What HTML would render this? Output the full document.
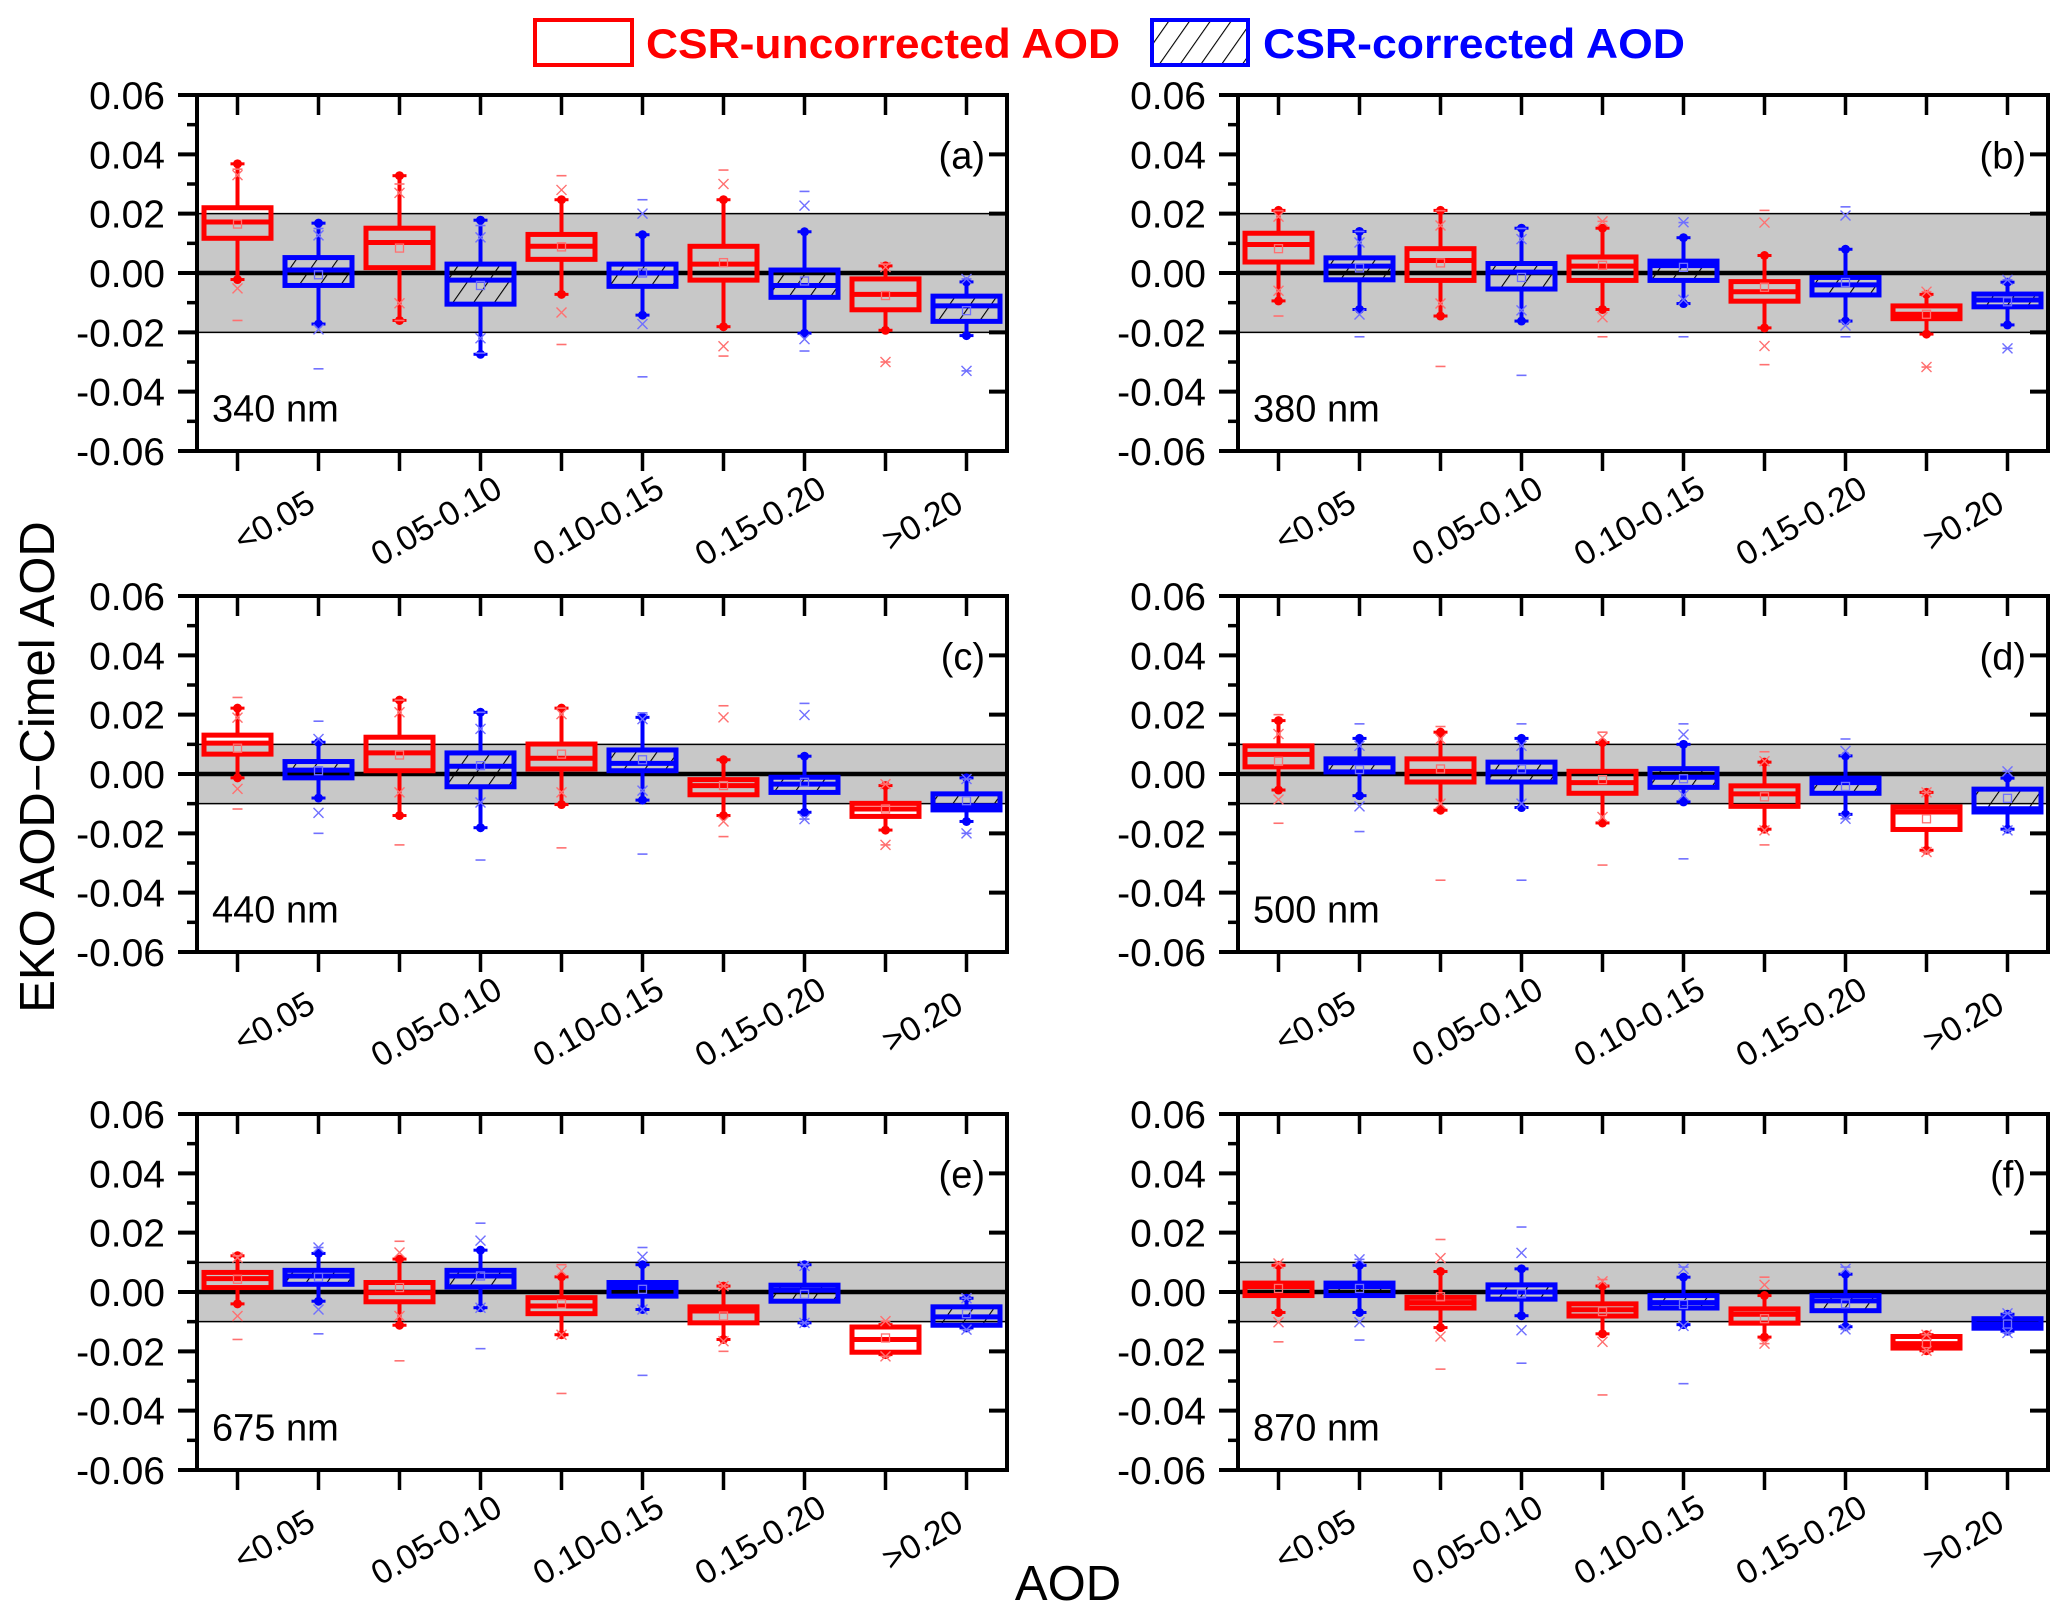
<!DOCTYPE html>
<html><head><meta charset="utf-8">
<style>
html,body{margin:0;padding:0;background:#fff;}
svg{display:block;font-family:"Liberation Sans",Arial,sans-serif;}
</style></head>
<body>
<svg id="chart" width="2067" height="1620" viewBox="0 0 2067 1620" xmlns="http://www.w3.org/2000/svg">
<defs>
<pattern id="hatch" patternUnits="userSpaceOnUse" width="17" height="17" patternTransform="rotate(35)">
<line x1="0" y1="0" x2="0" y2="17" stroke="#000" stroke-width="2.2"/>
</pattern>
</defs>
<g>
<rect x="535" y="20" width="97" height="45" fill="none" stroke="#ff0000" stroke-width="4"/>
<text x="646" y="58" font-size="42" font-weight="bold" fill="#ff0000" textLength="474" lengthAdjust="spacingAndGlyphs">CSR-uncorrected AOD</text>
<rect x="1152" y="20" width="96" height="45" fill="url(#hatch)" stroke="#0000ff" stroke-width="4"/>
<text x="1263" y="58" font-size="42" font-weight="bold" fill="#0000ff" textLength="422" lengthAdjust="spacingAndGlyphs">CSR-corrected AOD</text>
</g>
<text x="0" y="0" font-size="49" text-anchor="middle" transform="translate(54,767) rotate(-90)">EKO AOD−Cimel AOD</text>
<text x="1068" y="1600" font-size="49" text-anchor="middle">AOD</text>
<g id="panels"></g>
</svg>
<script>
// Category labels and tick labels
const categories = ["<0.05","0.05-0.10","0.10-0.15","0.15-0.20",">0.20"];
const yTicks = [0.06,0.04,0.02,0.00,-0.02,-0.04,-0.06];
const yTickLabels = ["0.06","0.04","0.02","0.00","-0.02","-0.04","-0.06"];
const panelLetters = ["(a)","(b)","(c)","(d)","(e)","(f)"];
const wavelengths = ["340 nm","380 nm","440 nm","500 nm","675 nm","870 nm"];
const bandHalf = [0.02,0.02,0.01,0.01,0.01,0.01];

// Panel (a) 340 nm — alternating uncorrected(red)/corrected(blue)
const aWhiskHi=[0.0368,0.0168,0.0328,0.0178,0.0247,0.0129,0.0247,0.0139,0.0024,-0.003];
const aQ3=[0.022,0.0052,0.0151,0.003,0.013,0.003,0.009,0.001,-0.002,-0.0078];
const aMed=[0.0172,0.001,0.0103,-0.0024,0.009,0,0.003,-0.0042,-0.0072,-0.0111];
const aQ1=[0.0117,-0.0042,0.0018,-0.0105,0.0046,-0.0045,-0.0024,-0.0082,-0.0124,-0.0163];
const aWhiskLo=[-0.0022,-0.0172,-0.016,-0.0274,-0.0072,-0.0142,-0.0181,-0.0203,-0.0193,-0.0211];
const aMean=[0.0165,-0.0006,0.0084,-0.0042,0.0088,0,0.0035,-0.0027,-0.0076,-0.0127];
const aP99=[0.033,0.0127,0.027,0.012,0.028,0.02,0.030,0.0227,0.002,-0.002];
const aP1=[-0.0052,-0.019,-0.0102,-0.022,-0.0133,-0.0172,-0.0247,-0.0223,-0.030,-0.033];
const aMax=[0.035,0.015,0.03,0.016,0.0328,0.0247,0.0347,0.0275,0.003,-0.002];
const aMin=[-0.016,-0.0323,-0.016,-0.027,-0.0241,-0.035,-0.028,-0.0263,-0.030,-0.033];
// Panel (b) 380 nm
const bWhiskHi=[0.0211,0.014,0.0211,0.0151,0.0151,0.0119,0.0059,0.008,-0.0072,-0.0031];
const bQ3=[0.0134,0.0051,0.0082,0.0032,0.0054,0.004,-0.0029,-0.0015,-0.0111,-0.0071];
const bMed=[0.0096,0.0023,0.0042,0.0003,0.0023,0.0025,-0.0063,-0.004,-0.0139,-0.0091];
const bQ1=[0.0037,-0.0023,-0.0025,-0.0054,-0.0025,-0.0025,-0.0095,-0.0074,-0.0154,-0.0114];
const bWhiskLo=[-0.0094,-0.0123,-0.0145,-0.0162,-0.0123,-0.0103,-0.0185,-0.0162,-0.0206,-0.0175];
const bMean=[0.0082,0.0017,0.0034,-0.0015,0.0026,0.0019,-0.0048,-0.0032,-0.0139,-0.0097];
const bP99=[0.019,0.0103,0.016,0.0114,0.0174,0.0171,0.017,0.0194,-0.0063,-0.0023];
const bP1=[-0.006,-0.014,-0.0103,-0.0126,-0.0149,-0.009,-0.0246,-0.0177,-0.0317,-0.0254];
const bMax=[0.021,0.014,0.021,0.015,0.0174,0.017,0.0211,0.0223,-0.0063,-0.0023];
const bMin=[-0.0145,-0.0215,-0.0315,-0.0345,-0.0215,-0.0215,-0.0309,-0.0215,-0.0317,-0.0254];
// Panel (c) 440 nm
const cWhiskHi=[0.0222,0.0107,0.0249,0.0208,0.0222,0.0191,0.0048,0.006,-0.0039,-0.0013];
const cQ3=[0.0131,0.0042,0.0124,0.0071,0.0101,0.0081,-0.0019,-0.0011,-0.0099,-0.0067];
const cMed=[0.0104,0.0013,0.0071,0.0026,0.0053,0.0036,-0.0039,-0.0034,-0.0118,-0.0107];
const cQ1=[0.0067,-0.0013,0.0011,-0.0043,0.0017,0.0011,-0.007,-0.0062,-0.0143,-0.0121];
const cWhiskLo=[-0.0013,-0.0081,-0.014,-0.0181,-0.0103,-0.0088,-0.014,-0.0129,-0.0189,-0.016];
const cMean=[0.0087,0.0011,0.0064,0.0028,0.0067,0.0048,-0.0039,-0.0028,-0.0118,-0.009];
const cP99=[0.019,0.0118,0.0208,0.0152,0.0202,0.0185,0.0191,0.0199,-0.0034,-0.0017];
const cP1=[-0.005,-0.0131,-0.0062,-0.0096,-0.0062,-0.0056,-0.016,-0.0152,-0.0239,-0.02];
const cMax=[0.0258,0.0178,0.0249,0.0208,0.0222,0.0206,0.023,0.0238,-0.0034,-0.0017];
const cMin=[-0.0118,-0.02,-0.0239,-0.029,-0.0249,-0.027,-0.0211,-0.0152,-0.0239,-0.02];
// Panel (d) 500 nm
const dWhiskHi=[0.018,0.012,0.0141,0.012,0.0106,0.01,0.004,0.0061,-0.0062,-0.0014];
const dQ3=[0.0095,0.0051,0.0051,0.004,0.0009,0.0018,-0.004,-0.0014,-0.0111,-0.0051];
const dMed=[0.0066,0.0038,0.0009,0.0007,-0.0029,-0.0011,-0.0067,-0.0029,-0.0128,-0.0117];
const dQ1=[0.0024,0.0007,-0.0027,-0.0027,-0.0065,-0.0045,-0.0109,-0.0065,-0.0187,-0.0128];
const dWhiskLo=[-0.0054,-0.0073,-0.0122,-0.0113,-0.0165,-0.0094,-0.0186,-0.0136,-0.0257,-0.0186];
const dMean=[0.0043,0.0015,0.0017,0.0017,-0.0019,-0.0016,-0.0077,-0.0042,-0.0151,-0.0082];
const dP99=[0.0135,0.0095,0.0118,0.0095,0.0123,0.0133,0.0043,0.0078,-0.0062,0.0009];
const dP1=[-0.0086,-0.0109,-0.01,-0.01,-0.0145,-0.0071,-0.019,-0.0151,-0.0263,-0.019];
const dMax=[0.02,0.0169,0.016,0.0169,0.0141,0.0169,0.0075,0.0118,-0.0062,0.0009];
const dMin=[-0.0166,-0.0194,-0.0358,-0.0358,-0.0307,-0.0286,-0.0239,-0.0151,-0.0263,-0.019];
// Panel (e) 675 nm
const eWhiskHi=[0.0122,0.013,0.0111,0.0141,0.0051,0.0092,0.002,0.0092,-0.011,-0.0021];
const eQ3=[0.0066,0.0073,0.0032,0.0073,-0.0019,0.0032,-0.005,0.0023,-0.0118,-0.005];
const eMed=[0.0045,0.0054,-0.0002,0.0054,-0.0047,0.0015,-0.0064,0.0006,-0.016,-0.0084];
const eQ1=[0.0015,0.0026,-0.0033,0.0017,-0.0073,-0.0014,-0.0104,-0.0031,-0.0203,-0.0112];
const eWhiskLo=[-0.004,-0.0031,-0.0112,-0.0053,-0.0144,-0.0059,-0.016,-0.0104,-0.0211,-0.0121];
const eMean=[0.0043,0.0049,0.0015,0.0054,-0.004,0.0009,-0.0081,-0.0008,-0.0155,-0.0073];
const eP99=[0.0116,0.015,0.0133,0.0173,0.0071,0.0119,0.002,0.0088,-0.0098,-0.0021];
const eP1=[-0.0081,-0.0059,-0.0081,-0.0053,-0.0144,-0.0059,-0.0166,-0.0104,-0.0217,-0.0127];
const eMax=[0.0122,0.015,0.0171,0.0232,0.0092,0.015,0.002,0.0092,-0.0098,-0.0021];
const eMin=[-0.016,-0.0141,-0.0232,-0.0191,-0.0342,-0.0281,-0.02,-0.0104,-0.0217,-0.0127];
// Panel (f) 870 nm
const fWhiskHi=[0.009,0.009,0.0069,0.0078,0.002,0.005,-0.0012,0.006,-0.0144,-0.0075];
const fQ3=[0.003,0.003,-0.0018,0.0024,-0.004,-0.0012,-0.0057,-0.0012,-0.015,-0.009];
const fMed=[0.0018,0.0018,-0.0036,0,-0.006,-0.0036,-0.0075,-0.003,-0.0174,-0.0108];
const fQ1=[-0.0012,-0.0012,-0.0054,-0.0024,-0.0081,-0.0054,-0.0105,-0.0063,-0.0189,-0.0122];
const fWhiskLo=[-0.0069,-0.0069,-0.012,-0.008,-0.0141,-0.011,-0.0152,-0.0117,-0.0198,-0.0132];
const fMean=[0.0012,0.0012,-0.0016,-0.0006,-0.0066,-0.0042,-0.009,-0.004,-0.0174,-0.0108];
const fP99=[0.0096,0.011,0.0114,0.0132,0.0036,0.0078,0.0024,0.0078,-0.0144,-0.0072];
const fP1=[-0.0102,-0.0102,-0.015,-0.0129,-0.0168,-0.0114,-0.0174,-0.0126,-0.0198,-0.0138];
const fMax=[0.0096,0.011,0.0177,0.0219,0.0042,0.0084,0.005,0.0084,-0.0144,-0.0072];
const fMin=[-0.0168,-0.0162,-0.026,-0.024,-0.0347,-0.0309,-0.0174,-0.0126,-0.0198,-0.0138];

const panelData = [
 [aWhiskHi,aQ3,aMed,aQ1,aWhiskLo,aMean,aP99,aP1,aMax,aMin],
 [bWhiskHi,bQ3,bMed,bQ1,bWhiskLo,bMean,bP99,bP1,bMax,bMin],
 [cWhiskHi,cQ3,cMed,cQ1,cWhiskLo,cMean,cP99,cP1,cMax,cMin],
 [dWhiskHi,dQ3,dMed,dQ1,dWhiskLo,dMean,dP99,dP1,dMax,dMin],
 [eWhiskHi,eQ3,eMed,eQ1,eWhiskLo,eMean,eP99,eP1,eMax,eMin],
 [fWhiskHi,fQ3,fMed,fQ1,fWhiskLo,fMean,fP99,fP1,fMax,fMin]
];

const NS="http://www.w3.org/2000/svg";
const root=document.getElementById('panels');
function mk(tag,attrs,parent){const e=document.createElementNS(NS,tag);for(const k in attrs)e.setAttribute(k,attrs[k]);parent.appendChild(e);return e;}

const lefts=[197,1238], tops=[95,596,1114], W=810, H=356, YMIN=-0.06, YMAX=0.06;

for(let p=0;p<6;p++){
  const L=lefts[p%2], T=tops[Math.floor(p/2)];
  const yS=v=>T+(YMAX-v)/(YMAX-YMIN)*H;
  const xS=i=>L+40.5+i*81;
  const g=mk('g',{},root);
  
  
  const hb=bandHalf[p];
  const band=mk('rect',{x:L,y:yS(hb),width:W,height:yS(-hb)-yS(hb),fill:'#c8c8c8'},g);
  
  
  mk('line',{x1:L,x2:L+W,y1:yS(hb),y2:yS(hb),stroke:'#000','stroke-width':1.5},g);
  mk('line',{x1:L,x2:L+W,y1:yS(-hb),y2:yS(-hb),stroke:'#000','stroke-width':1.5},g);
  const zl=mk('line',{x1:L,x2:L+W,y1:yS(0),y2:yS(0),stroke:'#000','stroke-width':4.5},g);
  
  
  const [wHi,q3,med,q1,wLo,mean,p99,p1,mx,mn]=panelData[p];
  for(let i=0;i<10;i++){
    const col=i%2===0?'#ff0000':'#0000ff';
    const light=i%2===0?'#ff7070':'#7070ff';
    const cx=xS(i), bw=67;
    const bx=mk('g',{},g);
    
    
    mk('line',{x1:cx,x2:cx,y1:yS(wHi[i]),y2:yS(q3[i]),stroke:col,'stroke-width':4},bx);
    mk('line',{x1:cx,x2:cx,y1:yS(q1[i]),y2:yS(wLo[i]),stroke:col,'stroke-width':4},bx);
    [wHi[i],wLo[i]].forEach(v=>{
      mk('line',{x1:cx-7,x2:cx+7,y1:yS(v),y2:yS(v),stroke:col,'stroke-width':3},bx);
      mk('circle',{cx:cx,cy:yS(v),r:4.5,fill:col},bx);
    });
    mk('rect',{x:cx-bw/2,y:yS(q3[i]),width:bw,height:Math.max(2,yS(q1[i])-yS(q3[i])),fill:i%2===0?'none':'url(#hatch)',stroke:col,'stroke-width':5},bx);
    mk('line',{x1:cx-bw/2,x2:cx+bw/2,y1:yS(med[i]),y2:yS(med[i]),stroke:col,'stroke-width':5},bx);
    mk('rect',{x:cx-4,y:yS(mean[i])-4,width:8,height:8,fill:'none',stroke:light,'stroke-width':1.3},bx);
    [p99[i],p1[i]].forEach(v=>{
      const y=yS(v);
      mk('path',{d:`M${cx-5},${y-5}L${cx+5},${y+5}M${cx+5},${y-5}L${cx-5},${y+5}`,stroke:light,'stroke-width':1.4,fill:'none'},bx);
    });
    [mx[i],mn[i]].forEach(v=>{
      mk('line',{x1:cx-5,x2:cx+5,y1:yS(v),y2:yS(v),stroke:light,'stroke-width':1.6},bx);
    });
  }
  const fr=mk('rect',{x:L,y:T,width:W,height:H,fill:'none',stroke:'#000','stroke-width':4},g);
  
  
  for(let k=0;k<yTicks.length;k++){
    const y=yS(yTicks[k]);
    mk('line',{x1:L-19,x2:L,y1:y,y2:y,stroke:'#000','stroke-width':4},g);
    mk('line',{x1:L+W-18,x2:L+W,y1:y,y2:y,stroke:'#000','stroke-width':4},g);
    const t=mk('text',{x:L-32,y:y+14,'font-size':39,'text-anchor':'end'},g);
    t.textContent=yTickLabels[k];
    
    
  }
  for(let k=0;k<yTicks.length-1;k++){
    const y=yS((yTicks[k]+yTicks[k+1])/2);
    mk('line',{x1:L-10,x2:L,y1:y,y2:y,stroke:'#000','stroke-width':3.5},g);
  }
  for(let i=0;i<10;i++){
    const cx=xS(i);
    mk('line',{x1:cx,x2:cx,y1:T,y2:T+20,stroke:'#000','stroke-width':3.5},g);
    mk('line',{x1:cx,x2:cx,y1:T+H,y2:T+H+20,stroke:'#000','stroke-width':3.5},g);
  }
  for(let c=0;c<5;c++){
    const pc=(xS(2*c)+xS(2*c+1))/2;
    const t=mk('text',{x:0,y:0,'font-size':34,'text-anchor':'middle',transform:`translate(${pc+2},${T+H+80}) rotate(-30)`},g);
    t.textContent=categories[c];
    
    
  }
  const pl=mk('text',{x:L+W-22,y:yS(0.04)+14,'font-size':38,'text-anchor':'end'},g);
  pl.textContent=panelLetters[p];
  
  
  const wl=mk('text',{x:L+15,y:yS(-0.04)+30,'font-size':38},g);
  wl.textContent=wavelengths[p];
  
  
}
</script>
</body></html>
